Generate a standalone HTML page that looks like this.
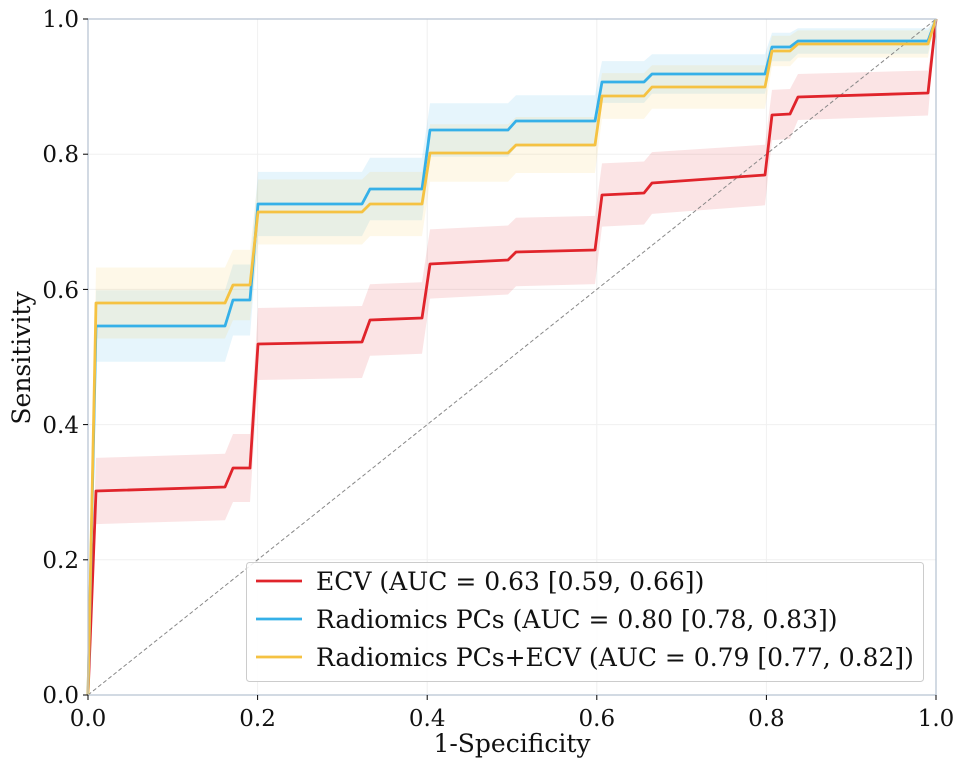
<!DOCTYPE html>
<html><head><meta charset="utf-8"><style>
body{margin:0;background:#fff}
svg text{font-family:"DejaVu Serif","Liberation Serif",serif;fill:#111}
</style></head><body>
<svg id="s" width="966" height="766" xmlns="http://www.w3.org/2000/svg">
<g stroke="#f0f0f0" stroke-width="1">
<line x1="257.6" y1="19" x2="257.6" y2="695"/><line x1="427.2" y1="19" x2="427.2" y2="695"/><line x1="596.8" y1="19" x2="596.8" y2="695"/><line x1="766.4" y1="19" x2="766.4" y2="695"/>
<line x1="88" y1="559.8" x2="936" y2="559.8"/><line x1="88" y1="424.6" x2="936" y2="424.6"/><line x1="88" y1="289.4" x2="936" y2="289.4"/><line x1="88" y1="154.2" x2="936" y2="154.2"/>
</g>
<g id="bands"></g>
<line x1="88" y1="695" x2="936" y2="19" stroke="#888" stroke-width="1" stroke-dasharray="4,2.5"/>
<g id="lines"></g>
<rect x="88" y="19" width="848" height="676" fill="none" stroke="#b4c0d0" stroke-width="1.2"/>
<g stroke="#000" stroke-width="1">
<line x1="83" y1="695" x2="88" y2="695"/><line x1="83" y1="559.8" x2="88" y2="559.8"/><line x1="83" y1="424.6" x2="88" y2="424.6"/><line x1="83" y1="289.4" x2="88" y2="289.4"/><line x1="83" y1="154.2" x2="88" y2="154.2"/><line x1="83" y1="19" x2="88" y2="19"/>
<line x1="88" y1="695" x2="88" y2="700"/><line x1="257.6" y1="695" x2="257.6" y2="700"/><line x1="427.2" y1="695" x2="427.2" y2="700"/><line x1="596.8" y1="695" x2="596.8" y2="700"/><line x1="766.4" y1="695" x2="766.4" y2="700"/><line x1="936" y1="695" x2="936" y2="700"/>
</g>
<g font-size="23" text-anchor="end">
<text x="79" y="703">0.0</text><text x="79" y="568">0.2</text><text x="79" y="433">0.4</text><text x="79" y="298">0.6</text><text x="79" y="162">0.8</text><text x="79" y="27">1.0</text>
</g>
<g font-size="23" text-anchor="middle">
<text x="88" y="726">0.0</text><text x="257.6" y="726">0.2</text><text x="427.2" y="726">0.4</text><text x="596.8" y="726">0.6</text><text x="766.4" y="726">0.8</text><text x="936" y="726">1.0</text>
<text x="512" y="752" font-size="25">1-Specificity</text>
<text transform="translate(30,358) rotate(-90)" font-size="25">Sensitivity</text>
</g>
<rect x="246.5" y="562.5" width="677" height="119" fill="#fff" fill-opacity="0.85" stroke="#ccc" rx="3"/>
<g stroke-width="2.8"><line x1="256" y1="581" x2="302" y2="581" stroke="#e0242b"/><line x1="256" y1="619" x2="302" y2="619" stroke="#35b0e8"/><line x1="256" y1="657" x2="302" y2="657" stroke="#f5c242"/></g>
<g font-size="25"><text x="316" y="590">ECV (AUC = 0.63 [0.59, 0.66])</text><text x="316" y="628">Radiomics PCs (AUC = 0.80 [0.78, 0.83])</text><text x="316" y="666">Radiomics PCs+ECV (AUC = 0.79 [0.77, 0.82])</text></g>
</svg>
<script>
var X=[88,96,225,233,250,258,362,370,422,430,508,516,595,602,644,652,765,772,790,798,928,936];
var S=[
 {c:"#e0242b",f:"#e0242b",y:[695,491,487,468,468,344,342,320,318,264,260,252,250,195,193,183,175,115,114,97,93,19]},
 {c:"#35b0e8",f:"#35b0e8",y:[695,326,326,300,300,204,204,189,189,130,130,121,121,82,82,74,74,47,47,41,41,19]},
 {c:"#f5c242",f:"#f5c242",y:[695,303,303,285,285,212,212,204,204,153,153,145,145,96,96,87,87,51,51,44,44,19]}];
var b="",l="";
S.forEach(function(s){
 var up=[],lo=[];
 for(var i=0;i<X.length;i++){var p=(695-s.y[i])/676;var d=(i==0||i==X.length-1)?0:72*Math.sqrt(Math.max(p*(1-p),0.006));
  up.push(X[i]+","+(s.y[i]-d).toFixed(1));lo.unshift(X[i]+","+(s.y[i]+d).toFixed(1));}
 b+='<polygon points="'+up.concat(lo).join(" ")+'" fill="'+s.f+'" fill-opacity="0.12"/>';
 l+='<polyline points="'+X.map(function(x,i){return x+","+s.y[i]}).join(" ")+'" fill="none" stroke="'+s.c+'" stroke-width="2.8" stroke-linejoin="round"/>';
});
document.getElementById("bands").innerHTML=b;
document.getElementById("lines").innerHTML=l;
</script>
</body></html>
